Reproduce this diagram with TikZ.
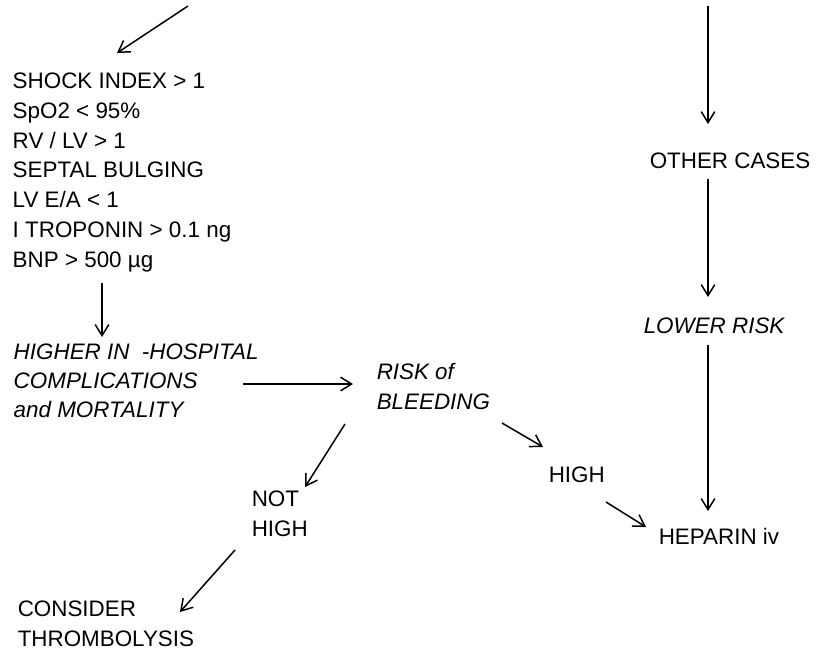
\documentclass[tikz,border=0pt]{standalone}
\usepackage{fontspec}
\setmainfont{Liberation Sans}
\usetikzlibrary{arrows.meta}
\usetikzlibrary{calc}

\begin{document}
\begin{tikzpicture}[line join=round,>={Straight Barb[length=5.5pt,width=6.8pt]},x=0.5pt,y=-0.5pt,
  txt/.style={anchor=north west,inner sep=0pt,align=left,font=\fontsize{11.2pt}{14.9pt}\selectfont},
  emph/.style={txt,font=\fontsize{11.2pt}{14.6pt}\selectfont\itshape},
  every path/.style={line width=0.75pt}]
\useasboundingbox (0,0) rectangle (822,649);
% incoming branches from above
\coordinate (inL) at (188,6);
\coordinate (inR) at (708,6);
% left column
\node[txt] (signs) at (12,72) {SHOCK INDEX > 1\\ SpO2 < 95\%\\ RV / LV > 1\\ SEPTAL BULGING\\ LV E/A < 1\\ I TROPONIN > 0.1 ng\\ BNP > 500 µg};
\node[emph] (higher) at (13,343) {HIGHER IN\ \ -HOSPITAL\\ COMPLICATIONS\\ and MORTALITY};
\node[emph] (bleed) at (376,363) {RISK of\\ BLEEDING};
\node[txt] (nothigh) at (251,490) {NOT\\ HIGH};
\node[txt] (high) at (548,466) {HIGH};
\node[txt] (lysis) at (17,600) {CONSIDER\\ THROMBOLYSIS};
% right column
\node[txt] (other) at (649,152) {OTHER CASES};
\node[emph] (lower) at (643,317) {LOWER RISK};
\node[txt] (heparin) at (658,528) {HEPARIN iv};
% arrows
\draw[->] (inL) -- ($(signs.north west)+(105,-19)$);
\draw[->] ($(signs.south west)+(90,10)$) -- ($(higher.north west)+(89,-6)$);
\draw[->] ($(higher.north west)+(230,41)$) -- ($(bleed.north west)+(-23,21)$);
\draw[->] ($(bleed.north west)+(-31,61)$) -- ($(nothigh.north west)+(54,-3)$);
\draw[->] ($(bleed.north west)+(126,60)$) -- ($(high.north west)+(-5,-19)$);
\draw[->] ($(nothigh.north west)+(-16,60)$) -- ($(lysis.north west)+(163,12)$);
\draw[->] ($(high.north west)+(58,36)$) -- ($(heparin.north west)+(-12,-1)$);
\draw[->] (inR) -- ($(other.north west)+(59,-28)$);
\draw[->] ($(other.north west)+(59,27)$) -- ($(lower.north west)+(65,-20)$);
\draw[->] ($(lower.north west)+(65,28)$) -- ($(heparin.north west)+(50,-17)$);
\end{tikzpicture}
\end{document}
